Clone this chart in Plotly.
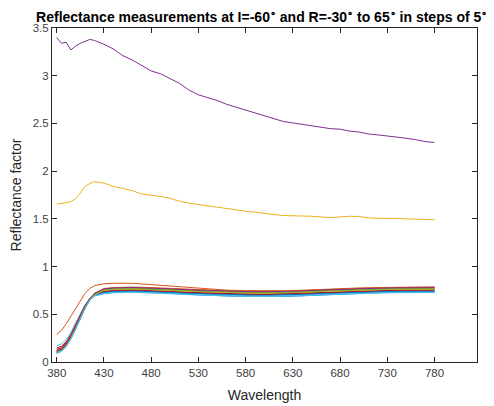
import plotly.graph_objects as go

# Wavelength grids
wl_fine = [380, 385, 390, 395, 400, 405, 410, 415, 420] + list(range(430, 790, 10))
wl_cluster = [380, 385, 390, 395, 400, 405, 410, 415, 420, 430, 440, 460, 480, 500, 520, 540,
              560, 580, 600, 620, 640, 660, 680, 700, 720, 740, 760, 780]

# Outlier series (fine grid)
r_m20 = [1.655, 1.66, 1.67, 1.68, 1.71, 1.77, 1.84, 1.87, 1.89, 1.875, 1.84, 1.82, 1.795, 1.76, 1.75,
         1.735, 1.715, 1.685, 1.665, 1.65, 1.635, 1.625, 1.61, 1.595, 1.58, 1.57, 1.555, 1.545, 1.535,
         1.533, 1.532, 1.527, 1.52, 1.513, 1.52, 1.527, 1.525, 1.51, 1.505, 1.508, 1.505, 1.50, 1.495,
         1.49, 1.49]
r_m15 = [3.40, 3.34, 3.35, 3.27, 3.31, 3.34, 3.36, 3.38, 3.37, 3.33, 3.28, 3.21, 3.165, 3.11, 3.05,
         3.02, 2.97, 2.92, 2.85, 2.80, 2.77, 2.74, 2.70, 2.67, 2.64, 2.61, 2.58, 2.545, 2.52, 2.505,
         2.49, 2.48, 2.465, 2.445, 2.44, 2.42, 2.41, 2.39, 2.38, 2.37, 2.355, 2.345, 2.33, 2.31, 2.30]

# Cluster series (cluster grid)
r_m30 = [0.10, 0.12, 0.17, 0.25, 0.35, 0.46, 0.57, 0.65, 0.695, 0.725, 0.735, 0.74, 0.733, 0.72, 0.708,
         0.698, 0.692, 0.688, 0.686, 0.687, 0.694, 0.703, 0.713, 0.721, 0.726, 0.731, 0.733, 0.733]
r_m25 = [0.29, 0.33, 0.40, 0.48, 0.56, 0.64, 0.72, 0.77, 0.80, 0.82, 0.825, 0.825, 0.81, 0.795, 0.78,
         0.765, 0.753, 0.747, 0.745, 0.746, 0.752, 0.762, 0.77, 0.776, 0.78, 0.784, 0.786, 0.787]
r_m10 = [0.11, 0.13, 0.18, 0.26, 0.36, 0.465, 0.575, 0.66, 0.71, 0.75, 0.76, 0.765, 0.76, 0.75, 0.74,
         0.732, 0.727, 0.723, 0.721, 0.722, 0.729, 0.738, 0.746, 0.753, 0.757, 0.761, 0.763, 0.763]
r_m05 = [0.17, 0.19, 0.235, 0.31, 0.41, 0.51, 0.60, 0.665, 0.70, 0.72, 0.73, 0.735, 0.73, 0.72, 0.71,
         0.702, 0.697, 0.693, 0.691, 0.692, 0.699, 0.708, 0.716, 0.723, 0.727, 0.731, 0.733, 0.733]
r_p00 = [0.145, 0.165, 0.21, 0.29, 0.39, 0.49, 0.59, 0.665, 0.705, 0.735, 0.745, 0.75, 0.745, 0.735, 0.725,
         0.717, 0.712, 0.708, 0.706, 0.707, 0.714, 0.723, 0.731, 0.738, 0.742, 0.746, 0.748, 0.748]
r_p05 = [0.10, 0.12, 0.17, 0.25, 0.35, 0.46, 0.57, 0.655, 0.70, 0.73, 0.74, 0.745, 0.74, 0.73, 0.72,
         0.712, 0.707, 0.703, 0.701, 0.702, 0.709, 0.718, 0.726, 0.733, 0.737, 0.741, 0.743, 0.743]
r_p10 = [0.12, 0.14, 0.19, 0.27, 0.37, 0.47, 0.58, 0.665, 0.72, 0.765, 0.775, 0.78, 0.775, 0.765, 0.755,
         0.747, 0.742, 0.738, 0.736, 0.737, 0.744, 0.753, 0.761, 0.768, 0.772, 0.776, 0.778, 0.778]
r_p15 = [0.11, 0.13, 0.18, 0.26, 0.36, 0.465, 0.575, 0.66, 0.715, 0.755, 0.765, 0.77, 0.765, 0.755, 0.745,
         0.737, 0.732, 0.728, 0.726, 0.727, 0.734, 0.743, 0.751, 0.758, 0.762, 0.766, 0.768, 0.768]
r_p20 = [0.12, 0.14, 0.19, 0.27, 0.37, 0.47, 0.58, 0.665, 0.715, 0.76, 0.77, 0.775, 0.77, 0.76, 0.75,
         0.742, 0.737, 0.733, 0.731, 0.732, 0.739, 0.748, 0.756, 0.763, 0.767, 0.771, 0.773, 0.773]
r_p25 = [0.10, 0.12, 0.17, 0.25, 0.35, 0.46, 0.57, 0.655, 0.705, 0.745, 0.755, 0.76, 0.755, 0.745, 0.735,
         0.727, 0.722, 0.718, 0.716, 0.717, 0.724, 0.733, 0.741, 0.748, 0.752, 0.756, 0.758, 0.758]
r_p30 = [0.09, 0.11, 0.16, 0.24, 0.34, 0.45, 0.56, 0.645, 0.69, 0.715, 0.725, 0.73, 0.725, 0.715, 0.705,
         0.697, 0.692, 0.688, 0.686, 0.687, 0.694, 0.703, 0.711, 0.718, 0.722, 0.726, 0.728, 0.728]
r_p35 = [0.13, 0.15, 0.20, 0.28, 0.38, 0.48, 0.585, 0.665, 0.71, 0.74, 0.75, 0.755, 0.75, 0.74, 0.73,
         0.722, 0.717, 0.713, 0.711, 0.712, 0.719, 0.728, 0.736, 0.743, 0.747, 0.751, 0.753, 0.753]
r_p40 = [0.11, 0.13, 0.18, 0.26, 0.36, 0.465, 0.57, 0.65, 0.70, 0.725, 0.735, 0.74, 0.735, 0.725, 0.715,
         0.707, 0.702, 0.698, 0.696, 0.697, 0.704, 0.713, 0.721, 0.728, 0.732, 0.736, 0.738, 0.738]
r_p45 = [0.12, 0.14, 0.19, 0.27, 0.37, 0.47, 0.58, 0.665, 0.72, 0.77, 0.78, 0.785, 0.78, 0.77, 0.76,
         0.752, 0.747, 0.743, 0.741, 0.742, 0.749, 0.758, 0.766, 0.773, 0.777, 0.781, 0.783, 0.783]
r_p50 = [0.10, 0.12, 0.17, 0.25, 0.35, 0.46, 0.57, 0.655, 0.705, 0.75, 0.76, 0.765, 0.76, 0.75, 0.74,
         0.732, 0.727, 0.723, 0.721, 0.722, 0.729, 0.738, 0.746, 0.753, 0.757, 0.761, 0.763, 0.763]
r_p55 = [0.11, 0.13, 0.18, 0.26, 0.36, 0.465, 0.575, 0.66, 0.715, 0.765, 0.775, 0.78, 0.775, 0.765, 0.755,
         0.747, 0.742, 0.738, 0.736, 0.737, 0.744, 0.753, 0.761, 0.768, 0.772, 0.776, 0.778, 0.778]
r_p60 = [0.10, 0.12, 0.17, 0.25, 0.35, 0.46, 0.57, 0.655, 0.705, 0.755, 0.765, 0.77, 0.765, 0.755, 0.745,
         0.737, 0.732, 0.728, 0.726, 0.727, 0.734, 0.743, 0.751, 0.758, 0.762, 0.766, 0.768, 0.768]
r_p65 = [0.095, 0.115, 0.165, 0.245, 0.345, 0.455, 0.565, 0.65, 0.695, 0.72, 0.73, 0.735, 0.73, 0.72, 0.71,
         0.702, 0.697, 0.693, 0.691, 0.692, 0.699, 0.708, 0.716, 0.723, 0.727, 0.731, 0.733, 0.733]

angles = list(range(-30, 70, 5))
series = [r_m30, r_m25, r_m20, r_m15, r_m10, r_m05, r_p00, r_p05, r_p10, r_p15,
          r_p20, r_p25, r_p30, r_p35, r_p40, r_p45, r_p50, r_p55, r_p60, r_p65]

colors = ["#0072BD", "#D95319", "#EDB120", "#7E2F8E", "#77AC30", "#4DBEEE", "#A2142F"]

x_ticks = [380, 430, 480, 530, 580, 630, 680, 730, 780]
y_ticks = [0, 0.5, 1, 1.5, 2, 2.5, 3, 3.5]
y_ticklabels = ["0", "0.5", "1", "1.5", "2", "2.5", "3", "3.5"]

fig = go.Figure()
for i, (ang, ys) in enumerate(zip(angles, series)):
    xs = wl_fine if len(ys) == len(wl_fine) else wl_cluster
    fig.add_trace(go.Scatter(x=xs, y=ys, mode="lines", name=f"R={ang}",
                             line=dict(color=colors[i % len(colors)], width=1),
                             showlegend=False))

axis_common = dict(showline=True, linecolor="#262626", linewidth=1, mirror="ticks",
                   ticks="inside", ticklen=5, tickcolor="#262626", showgrid=False,
                   zeroline=False, automargin=False,
                   tickfont=dict(family="Liberation Sans", size=11.5, color="#404040"))

# The page body adds an 8px offset, so the figure is laid out 8px up/left of the target.
fig.update_layout(
    width=486, height=398,
    margin=dict(l=44, r=17, t=20, b=44),
    paper_bgcolor="white", plot_bgcolor="white",
    title=dict(text="Reflectance measurements at I=-60<sup>∘</sup> and R=-30<sup>∘</sup> to 65<sup>∘</sup> in steps of 5<sup>∘</sup>",
               x=0.522, xanchor="center", y=0.977, yanchor="middle", yref="container",
               automargin=False,
               font=dict(family="Liberation Sans", size=14, color="black", weight="bold")),
    xaxis=dict(range=[375, 825], tickvals=x_ticks, ticktext=[str(v) for v in x_ticks],
               title=dict(text="Wavelength", standoff=12,
                          font=dict(family="Liberation Sans", size=14, color="#262626")),
               **axis_common),
    yaxis=dict(range=[0, 3.5], tickvals=y_ticks, ticktext=y_ticklabels,
               title=dict(text="Reflectance factor", standoff=10,
                          font=dict(family="Liberation Sans", size=14, color="#262626")),
               **axis_common),
)

fig.write_html("out.html")
